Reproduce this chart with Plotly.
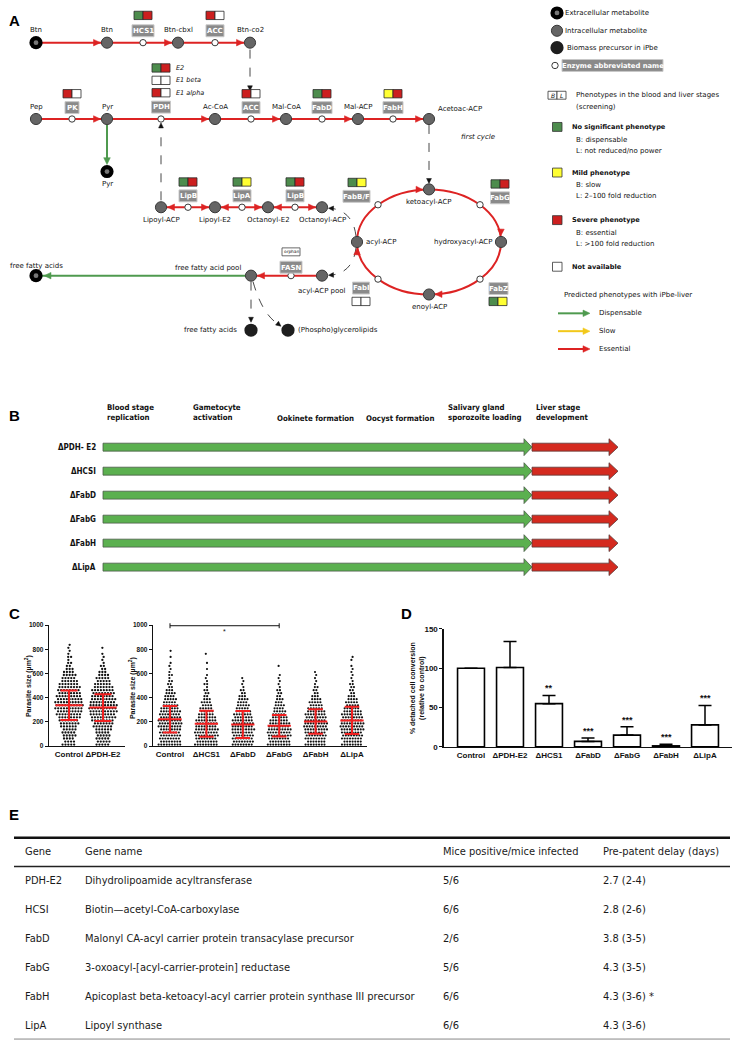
import math
import plotly.graph_objects as go

W, H = 737, 1050

# ======================= DATA =======================
# Panel A: screening phenotypes (blood | liver). N = no significant, M = mild, S = severe, NA = not available
enz_names = ["HCS1", "ACC", "PK", "PDH E2", "PDH E1 beta", "PDH E1 alpha", "ACC", "FabD", "FabH",
             "LipB", "LipA", "LipB", "FabB/F", "FabG", "FabZ", "FabI"]
enz_blood = ["N", "S", "S", "N", "NA", "S", "S", "N", "M", "N", "N", "N", "N", "N", "N", "NA"]
enz_liver = ["S", "NA", "NA", "S", "NA", "NA", "NA", "S", "S", "S", "M", "S", "M", "S", "M", "NA"]

# Panel B
b_mutants = ["ΔPDH- E2", "ΔHCSI", "ΔFabD", "ΔFabG", "ΔFabH", "ΔLipA"]
b_stages = ["Blood stage<br>replication", "Gametocyte<br>activation", "Ookinete formation",
            "Oocyst formation", "Salivary gland<br>sporozoite loading", "Liver stage<br>development"]
b_liver_pheno = ["Essential"] * 6

# Panel C: dot counts per 25 µm² bin (from 0 upward), mean and SD
C_BIN = 25
c_left_groups = ["Control", "ΔPDH-E2"]
c_left_counts = [
    [5, 4, 4, 5, 5, 5, 6, 7, 7, 8, 9, 9, 10, 10, 10, 9, 9, 8, 8, 8, 7, 6, 5, 5, 4, 3, 2, 2, 1, 2, 1, 1, 1, 1],
    [5, 5, 5, 5, 5, 6, 7, 7, 8, 9, 9, 10, 10, 10, 9, 9, 8, 8, 8, 7, 6, 5, 5, 4, 3, 2, 2, 1, 1, 1, 1, 0, 1],
]
c_left_mean = [338, 318]
c_left_sd = [122, 110]

c_right_groups = ["Control", "ΔHCS1", "ΔFabD", "ΔFabG", "ΔFabH", "ΔLipA"]
c_right_counts = [
    [9, 8, 8, 8, 8, 8, 9, 9, 9, 8, 8, 8, 7, 6, 5, 5, 4, 4, 3, 2, 2, 2, 1, 2, 1, 1, 1, 1, 0, 1, 0, 1],
    [9, 8, 8, 9, 9, 9, 8, 8, 8, 7, 6, 5, 5, 4, 4, 3, 2, 2, 2, 1, 2, 1, 1, 1, 0, 1, 0, 1, 0, 0, 1],
    [8, 8, 8, 8, 8, 9, 8, 8, 8, 7, 7, 6, 5, 5, 4, 4, 3, 2, 2, 1, 1, 1, 1],
    [9, 8, 8, 9, 9, 9, 8, 8, 7, 6, 5, 5, 4, 4, 3, 3, 2, 2, 2, 1, 1, 1, 1, 1, 0, 0, 1],
    [8, 7, 8, 8, 8, 9, 9, 9, 8, 8, 8, 7, 6, 5, 5, 4, 3, 2, 2, 2, 1, 1, 1, 1, 1],
    [8, 7, 8, 8, 8, 9, 9, 9, 8, 8, 8, 7, 6, 5, 5, 4, 3, 2, 2, 2, 2, 1, 1, 1, 1, 1, 1, 0, 1, 1],
]
c_right_mean = [222, 185, 178, 168, 203, 212]
c_right_sd = [110, 108, 112, 88, 102, 113]
c_ticks = [0, 200, 400, 600, 800, 1000]

# Panel D
d_groups = ["Control", "ΔPDH-E2", "ΔHCS1", "ΔFabD", "ΔFabG", "ΔFabH", "ΔLipA"]
d_values = [100, 101, 55, 7, 15, 1.3, 28]
d_errors = [0, 33, 10.5, 4.3, 10.6, 2.1, 24.8]
d_stars = ["", "", "**", "***", "***", "***", "***"]
d_ticks = [0, 50, 100, 150]

# Panel E
e_header = ["Gene", "Gene name", "Mice positive/mice infected", "Pre-patent delay (days)"]
e_gene = ["PDH-E2", "HCSI", "FabD", "FabG", "FabH", "LipA"]
e_name = ["Dihydrolipoamide acyltransferase", "Biotin\u2014acetyl-CoA-carboxylase",
          "Malonyl CA-acyl carrier protein transacylase precursor",
          "3-oxoacyl-[acyl-carrier-protein] reductase",
          "Apicoplast beta-ketoacyl-acyl carrier protein synthase III precursor", "Lipoyl synthase"]
e_mice = ["5/6", "6/6", "2/6", "5/6", "6/6", "6/6"]
e_delay = ["2.7 (2-4)", "2.8 (2-6)", "3.8 (3-5)", "4.3 (3-5)", "4.3 (3-6) *", "4.3 (3-6)"]

# ======================= STYLE =======================
FA = "DejaVu Sans"
NARROW = "Liberation Sans Narrow, DejaVu Sans Condensed, Arial Narrow, sans-serif"
ARIAL = "Liberation Sans, Arial, sans-serif"
RED = "#dd2323"
GREEN = "#4f9a4f"
YEL = "#f2c81a"
PH_COL = {"N": "#4d8c4d", "M": "#ffff33", "S": "#cc1f1f", "NA": "#ffffff"}
DARK = "#333333"
INK = "#111111"

shapes, annots = [], []


def txt(x, y, s, size=7, color=INK, xa="center", ya="middle", fam=FA, angle=0, align="center"):
    annots.append(dict(x=x, y=y, xref="x", yref="y", text=s, showarrow=False, xanchor=xa, yanchor=ya,
                       textangle=angle, borderpad=0, align=align, font=dict(family=fam, size=size, color=color)))


def line(x0, y0, x1, y1, color, w=2, dash=None):
    shapes.append(dict(type="line", xref="x", yref="y", x0=x0, y0=y0, x1=x1, y1=y1,
                       line=dict(color=color, width=w, dash=dash)))


def circ(x, y, r, fill, lc=None, lw=0):
    shapes.append(dict(type="circle", xref="x", yref="y", x0=x - r, x1=x + r, y0=y - r, y1=y + r,
                       fillcolor=fill, line=dict(color=lc or fill, width=lw)))


def rect(x0, y0, x1, y1, fill, lc, lw=1):
    shapes.append(dict(type="rect", xref="x", yref="y", x0=x0, x1=x1, y0=y0, y1=y1,
                       fillcolor=fill, line=dict(color=lc, width=lw)))


def path(p, fill=None, lc=None, lw=0, dash=None):
    d = dict(type="path", xref="x", yref="y", path=p, line=dict(color=lc or "rgba(0,0,0,0)", width=lw, dash=dash))
    if fill:
        d["fillcolor"] = fill
    shapes.append(d)


def head(x, y, ang, color, L=7, Wd=3.3):
    a = math.radians(ang)
    dx, dy = math.cos(a), math.sin(a)
    bx, by = x - L * dx, y - L * dy
    px, py = -dy, dx
    path(f"M {x:.2f},{y:.2f} L {bx + Wd * px:.2f},{by + Wd * py:.2f} L {bx - Wd * px:.2f},{by - Wd * py:.2f} Z",
         fill=color, lc=color, lw=0.5)


def node_int(x, y):
    circ(x, y, 5.6, "#656565", "#3a3a3a", 1)


def node_ext(x, y):
    circ(x, y, 6.6, "#000000")
    circ(x, y, 2.4, "#777777")


def node_bio(x, y):
    circ(x, y, 6.6, "#1e1e1e")


def node_enz(x, y):
    circ(x, y, 3.2, "#ffffff", "#3a3a3a", 1)


def enz_box(x, y, label, w):
    rect(x - w / 2, y - 6, x + w / 2, y + 6, "#8a8a8a", "#c8c8c8", 1)
    txt(x, y + 0.3, "<b>" + label + "</b>", size=7, color="white")


def pheno(x, y, idx):
    rect(x - 9, y - 4.2, x, y + 4.2, PH_COL[enz_blood[idx]], "#2a2a2a", 0.8)
    rect(x, y - 4.2, x + 9, y + 4.2, PH_COL[enz_liver[idx]], "#2a2a2a", 0.8)


# ======================= PANEL A =======================
txt(8, 17, "<b>A</b>", size=15, fam=ARIAL, color="black", xa="left")

# --- connecting lines (drawn first) ---
line(36, 39, 250, 39, RED)
line(36, 116, 429, 116, RED)
line(107, 122, 107, 157, GREEN)
line(161, 205, 322, 205, RED)
shapes.append(dict(type="circle", xref="x", yref="y", x0=357, x1=501, y0=187, y1=293,
                   line=dict(color=RED, width=2)))
line(251, 274, 322, 274, RED)
line(40, 274, 251, 274, GREEN)
# dashed links
line(250, 46, 250, 82, DARK, 0.9, "dash")
line(161, 198, 161, 126, DARK, 0.9, "dash")
line(429, 122, 429, 176, DARK, 0.9, "dash")
path("M 356,234 Q 353,209 331,206", lc=DARK, lw=0.9, dash="dash")
path("M 356,246 Q 353,271 331,273.5", lc=DARK, lw=0.9, dash="dash")
line(251, 280, 251, 316, DARK, 0.9, "dash")
path("M 253,280 Q 262,312 277,322", lc=DARK, lw=0.9, dash="dash")

# --- arrow heads ---
for xt in (100.5, 171.5, 243.5):
    head(xt, 39, 0, RED)
for xt in (100.5, 208.5, 279.5, 351.5, 422.5):
    head(xt, 116, 0, RED)
for xl, xr in ((161, 215), (215, 268), (268, 322)):
    head(xl + 6.5, 205, 180, RED)
    head(xr - 6.5, 205, 0, RED)
head(107, 162, 90, GREEN)
head(423, 187.3, 2, RED)
head(500.7, 234, 92, RED)
head(435, 292.7, 180, RED)
head(357.3, 246, 272, RED)
head(257.5, 274, 180, RED)
head(44, 274, 180, GREEN)
head(250, 87.5, 90, "#111", 5, 2.4)
head(161, 120, 270, "#111", 5, 2.4)
head(429, 181, 90, "#111", 5, 2.4)
head(328.5, 206, 182, "#111", 5, 2.4)
head(328.5, 273.5, 178, "#111", 5, 2.4)
head(251, 321, 90, "#111", 5, 2.4)
head(281, 325, 38, "#111", 5, 2.4)

# --- nodes ---
node_ext(36, 39)
for xn in (107, 178, 250):
    node_int(xn, 39)
for xn in (36, 107, 215, 286, 358, 429):
    node_int(xn, 116)
node_ext(107, 169)
for xn in (161, 215, 268, 322):
    node_int(xn, 205)
for (xn, yn) in ((429, 187), (501, 240), (429, 293), (357, 240)):
    node_int(xn, yn)
node_int(322, 274)
node_int(251, 274)
node_ext(36, 274)
node_bio(251, 329)
node_bio(288, 329)
for (xn, yn) in ((143, 39), (215, 39), (72, 116), (161, 116), (251, 116), (322, 116), (393, 116),
                 (188, 205), (242, 205), (295, 205),
                 (378, 202.5), (480, 202.5), (480, 277.5), (378, 277.5), (291, 274)):
    node_enz(xn, yn)

# --- metabolite labels ---
for xn, s in ((36, "Btn"), (107, "Btn"), (178, "Btn-cbxl"), (250, "Btn-co2")):
    txt(xn, 26, s)
for xn, s in ((36, "Pep"), (107, "Pyr"), (215, "Ac-CoA"), (286, "Mal-CoA"), (358, "Mal-ACP")):
    txt(xn, 104, s)
txt(437, 106, "Acetoac-ACP", xa="left")
txt(107, 182, "Pyr")
for xn, s in ((161, "Lipoyl-ACP"), (215, "Lipoyl-E2"), (268, "Octanoyl-E2"), (322, "Octanoyl-ACP")):
    txt(xn, 218, s)
txt(429, 200, "ketoacyl-ACP")
txt(493, 240, "hydroxyacyl-ACP", xa="right")
txt(365, 240, "acyl-ACP", xa="left")
txt(429, 306, "enoyl-ACP")
txt(478, 134, "<i>first cycle</i>")
txt(242, 266, "free fatty acid pool", xa="right")
txt(36, 264, "free fatty acids")
txt(322, 289, "acyl-ACP pool")
txt(238, 329, "free fatty acids", xa="right")
txt(297, 329, "(Phospho)glycerolipids", xa="left")

# --- enzyme labels and phenotype boxes ---
enz_box(143, 27, "HCS1", 22); pheno(143, 11.5, 0)
enz_box(215, 27, "ACC", 18); pheno(215, 11.5, 1)
enz_box(72, 104.5, "PK", 14); pheno(72, 90.5, 2)
enz_box(161, 104, "PDH", 19)
pheno(161, 64.5, 3); pheno(161, 77, 4); pheno(161, 89.5, 5)
txt(175, 64.5, "<i>E2</i>", size=6.5, xa="left")
txt(175, 77, "<i>E1 beta</i>", size=6.5, xa="left")
txt(175, 89.5, "<i>E1 alpha</i>", size=6.5, xa="left")
enz_box(251, 104.5, "ACC", 18); pheno(251, 90.5, 6)
enz_box(322, 104.5, "FabD", 20); pheno(322, 90.5, 7)
enz_box(393, 104.5, "FabH", 20); pheno(393, 90.5, 8)
enz_box(188, 193.5, "LipB", 18); pheno(188, 179.5, 9)
enz_box(242, 193.5, "LipA", 18); pheno(242, 179.5, 10)
enz_box(295, 193.5, "LipB", 18); pheno(295, 179.5, 11)
enz_box(356.5, 194, "FabB/F", 27); pheno(357, 180, 12)
enz_box(500, 195.5, "FabG", 19); pheno(500, 181.5, 13)
enz_box(498.5, 287, "FabZ", 19); pheno(498, 300, 14)
enz_box(361, 286.5, "FabI", 17); pheno(361, 300, 15)
enz_box(291, 265.5, "FASN", 22)
rect(282, 246, 300, 254, "white", "#444", 0.8)
txt(291, 250, "orphan", size=4.3)

# --- legend of panel A ---
node_ext(557, 9); txt(564, 9, "Extracellular metabolite", xa="left")
node_int(557, 27); txt(564, 27, "Intracellular metabolite", xa="left")
node_bio(557, 44); txt(566, 44, "Biomass precursor in iPbe", xa="left")
node_enz(555, 62)
rect(562, 56, 663, 68, "#8a8a8a", "#c8c8c8", 1)
txt(612.5, 62.3, "<b>Enzyme abbreviated name</b>", size=6.8, color="white")
rect(548, 88, 557, 96, "white", "#333", 0.8)
rect(557, 88, 566, 96, "white", "#333", 0.8)
txt(552.5, 92, "<i>B</i>", size=6)
txt(561.5, 92, "<i>L</i>", size=6)
txt(575, 92, "Phenotypes in the blood and liver stages", xa="left")
txt(575, 104, "(screening)", xa="left")
leg_items = [(124, "N", "No significant phenotype", ["B: dispensable", "L: not reduced/no power"]),
             (170, "M", "Mild phenotype", ["B: slow", "L: 2\u2013100 fold reduction"]),
             (218, "S", "Severe phenotype", ["B: essential", "L: >100 fold reduction"]),
             (265, "NA", "Not available", [])]
for yl, code, title, subs in leg_items:
    rect(552.5, yl - 4.5, 562, yl + 4.5, PH_COL[code], "#333", 0.8)
    txt(571, yl, "<b>" + title + "</b>", size=6.6, xa="left")
    for k, s in enumerate(subs):
        txt(575, yl + 13 + 11 * k, s, xa="left")
txt(563, 294, "Predicted phenotypes with iPbe-liver", xa="left")
for yl, col, s in ((312, GREEN, "Dispensable"), (330, YEL, "Slow"), (348, RED, "Essential")):
    line(558, yl, 584, yl, col, 2)
    head(590, yl, 0, col)
    txt(598, yl, s, xa="left")

# ======================= PANEL B =======================
txt(8, 415, "<b>B</b>", size=15, fam=ARIAL, color="black", xa="left")
b_head_x = [106, 192, 276, 365, 447, 535]
for xs, s in zip(b_head_x, b_stages):
    txt(xs, 418 if "<br>" not in s else 412.5, "<b>" + s + "</b>", size=7.8, fam=NARROW, xa="left",
        align="left")
B_Y0, B_DY = 447, 24.2
for i, (m, ph) in enumerate(zip(b_mutants, b_liver_pheno)):
    yb = B_Y0 + i * B_DY
    txt(97, yb, "<b>" + m + "</b>", size=8, fam=NARROW, xa="right")
    path(f"M 103,{yb - 4} L 524,{yb - 4} L 524,{yb - 8.5} L 532,{yb} L 524,{yb + 8.5} L 524,{yb + 4} L 103,{yb + 4} Z",
         fill="#5bb04f", lc="#4a5a48", lw=0.8)
    col = "#d42a1f" if ph == "Essential" else "#5bb04f"
    path(f"M 532,{yb - 4} L 609,{yb - 4} L 609,{yb - 8.5} L 618,{yb} L 609,{yb + 8.5} L 609,{yb + 4} L 532,{yb + 4} Z",
         fill=col, lc="#5a3a38", lw=0.8)

# ======================= PANEL C =======================
txt(8, 615, "<b>C</b>", size=15, fam=ARIAL, color="black", xa="left")
C_Y0, C_Y1 = 748.5, 626.5  # pixel rows of 0 and 1000


def swarm(counts, center, spacing):
    xs, ys = [], []
    for i, n in enumerate(counts):
        yv = (i + 0.5) * C_BIN
        off = 0.22 * spacing if i % 2 else -0.22 * spacing
        for k in range(n):
            xs.append(center + (k - (n - 1) / 2) * spacing + off)
            ys.append(yv)
    return xs, ys


def mean_sd(means, sds, mw, cw):
    xs, ys = [], []
    for c, (m, s) in enumerate(zip(means, sds)):
        xs += [c - mw, c + mw, None, c, c, None, c - cw, c + cw, None, c - cw, c + cw, None]
        ys += [m, m, None, m - s, m + s, None, m + s, m + s, None, m - s, m - s, None]
    return xs, ys


fig = go.Figure()
fig.add_trace(go.Scatter(x=[0], y=[0], mode="markers", marker=dict(opacity=0), hoverinfo="skip",
                         xaxis="x", yaxis="y"))

for gi, counts in enumerate(c_left_counts):
    xs, ys = swarm(counts, gi, 2.9 / 34)
    fig.add_trace(go.Scatter(x=xs, y=ys, mode="markers", marker=dict(size=2.3, color="#111"),
                             xaxis="x2", yaxis="y2", hoverinfo="skip"))
xs, ys = mean_sd(c_left_mean, c_left_sd, 0.40, 0.25)
fig.add_trace(go.Scatter(x=xs, y=ys, mode="lines", line=dict(color="#f22020", width=2),
                         xaxis="x2", yaxis="y2", hoverinfo="skip"))

for gi, counts in enumerate(c_right_counts):
    xs, ys = swarm(counts, gi, 2.7 / 36.4)
    fig.add_trace(go.Scatter(x=xs, y=ys, mode="markers", marker=dict(size=2.2, color="#111"),
                             xaxis="x3", yaxis="y3", hoverinfo="skip"))
xs, ys = mean_sd(c_right_mean, c_right_sd, 0.32, 0.2)
fig.add_trace(go.Scatter(x=xs, y=ys, mode="lines", line=dict(color="#f22020", width=2),
                         xaxis="x3", yaxis="y3", hoverinfo="skip"))


def cr_px(i):
    return 170 + 36.4 * i


def c_py(v):
    return C_Y0 - (C_Y0 - C_Y1) * v / 1000


# significance bracket (Control vs ΔFabG)
yb = c_py(995)
line(cr_px(0), yb, cr_px(3), yb, "#111", 1)
line(cr_px(0), yb - 2.5, cr_px(0), yb + 2.5, "#111", 1)
line(cr_px(3), yb - 2.5, cr_px(3), yb + 2.5, "#111", 1)
txt(cr_px(1.5), c_py(945), "*", size=7, fam=ARIAL)

txt(28, 688, "<b>Parasite size (µm<sup>2</sup>)</b>", size=7, fam=ARIAL, angle=-90)
txt(132, 690, "<b>Parasite size (µm<sup>2</sup>)</b>", size=7, fam=ARIAL, angle=-90)

# ======================= PANEL D =======================
txt(400, 615, "<b>D</b>", size=15, fam=ARIAL, color="black", xa="left")
fig.add_trace(go.Bar(x=list(range(len(d_groups))), y=d_values, width=0.69,
                     marker=dict(color="white", line=dict(color="black", width=1.6)),
                     error_y=dict(type="data", array=d_errors, arrayminus=[0] * len(d_errors), symmetric=False,
                                  color="black", thickness=1.5, width=6.5),
                     xaxis="x4", yaxis="y4", hoverinfo="skip"))
for i, s in enumerate(d_stars):
    if s:
        annots.append(dict(x=i, y=d_values[i] + d_errors[i] + 9, xref="x4", yref="y4", text="<b>" + s + "</b>",
                           showarrow=False, yanchor="middle", font=dict(family=ARIAL, size=9, color=INK)))
txt(417, 690, "<b>% detached cell conversion<br>(relative to control)</b>", size=7, fam=ARIAL, angle=-90)

# ======================= PANEL E =======================
txt(8, 817, "<b>E</b>", size=15, fam=ARIAL, color="black", xa="left")
line(14, 841, 730, 841, "#111", 2.5)
line(14, 870, 730, 870, "#222", 1.5)
line(14, 1044, 730, 1044, "#888", 1)
e_x = [24, 84, 442, 602]
for xc, s in zip(e_x, e_header):
    txt(xc, 855, s, size=11, fam=NARROW, xa="left", color="#1a1a1a")
E_Y0, E_DY = 884, 29.2
for r in range(len(e_gene)):
    yr = E_Y0 + r * E_DY
    for xc, s in zip(e_x, (e_gene[r], e_name[r], e_mice[r], e_delay[r])):
        txt(xc, yr, s, size=11, fam=NARROW, xa="left", color="#1a1a1a")

# ======================= AXES / LAYOUT =======================


def dx(p0, p1):
    return [p0 / W, p1 / W]


def dy(ptop, pbot):
    return [1 - pbot / H, 1 - ptop / H]


tickf = dict(family=ARIAL, size=6.5, color=INK, weight="bold")
common_y = dict(showline=True, linecolor="#111", linewidth=1.3, ticks="outside", ticklen=3, tickwidth=1,
                tickcolor="#111", showgrid=False, zeroline=False, tickfont=tickf)
common_x = dict(showline=True, linecolor="#111", linewidth=1.3, ticks="", showgrid=False, zeroline=False,
                tickangle=0, tickfont=dict(family=ARIAL, size=8, color=INK))

fig.update_layout(
    width=W, height=H, margin=dict(l=0, r=0, t=0, b=0), showlegend=False,
    paper_bgcolor="white", plot_bgcolor="rgba(0,0,0,0)",
    xaxis=dict(range=[0, W], domain=[0, 1], visible=False, fixedrange=True),
    yaxis=dict(range=[H, 0], domain=[0, 1], visible=False, fixedrange=True),
    xaxis2=dict(domain=dx(49, 125), range=[(49 - 69) / 34, (125 - 69) / 34], anchor="y2",
                tickvals=[0, 1], ticktext=["<b>" + g + "</b>" for g in c_left_groups], **common_x),
    yaxis2=dict(domain=dy(C_Y1, C_Y0), range=[0, 1000], anchor="x2", tickvals=c_ticks, **common_y),
    xaxis3=dict(domain=dx(153, 367), range=[(153 - 170) / 36.4, (367 - 170) / 36.4], anchor="y3",
                tickvals=list(range(6)), ticktext=["<b>" + g + "</b>" for g in c_right_groups], **common_x),
    yaxis3=dict(domain=dy(C_Y1, C_Y0), range=[0, 1000], anchor="x3", tickvals=c_ticks, **common_y),
    xaxis4=dict(domain=dx(444, 732), range=[(444 - 471) / 39, (732 - 471) / 39], anchor="y4",
                tickvals=list(range(7)), ticktext=["<b>" + g + "</b>" for g in d_groups], **common_x),
    yaxis4=dict(domain=dy(630.4, 749.3), range=[0, 150], anchor="x4", tickvals=d_ticks,
                **{**common_y, "tickfont": dict(family=ARIAL, size=8, color=INK, weight="bold"),
                   "linewidth": 1.6}),
    shapes=shapes, annotations=annots,
)
fig.update_xaxes(selector=dict(anchor="y4"), linewidth=1.6)

fig.write_html("out.html", config={"displayModeBar": False, "staticPlot": True},
               post_script="document.body.style.margin='0px';")
